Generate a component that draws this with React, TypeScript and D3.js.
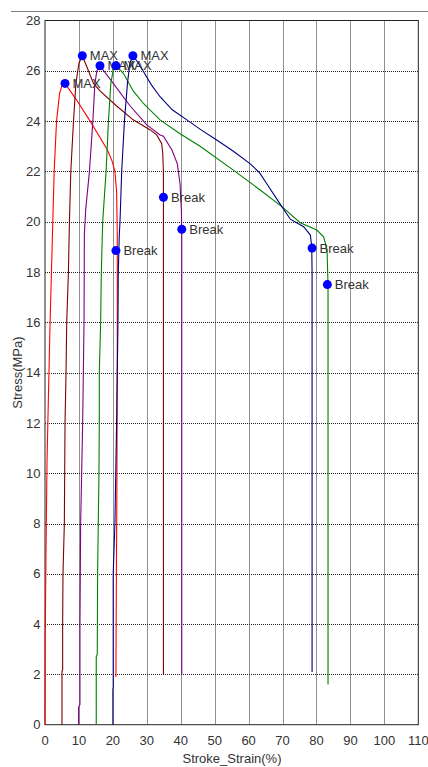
import { useRef, useEffect } from "react";
import * as d3 from "d3";

const WIDTH = 428;
const HEIGHT = 767;
const PLOT = { left: 45, right: 418.3, top: 20.5, bottom: 724.7 };

// strain (%) / stress (MPa) per specimen
const s1Strain = [0, 0.05, 0.1, 0.3, 0.6, 1.0, 1.5, 1.9, 2.3, 2.7, 3.4, 4.3, 5.2, 5.9, 9.5, 13.3, 16.0, 18.4, 19.8, 20.6, 21.1, 21.3, 21.3, 21.2, 21.0, 20.9];
const s1Stress = [0, 3.5, 4.0, 7.0, 10.5, 13.0, 16.0, 18.0, 20.0, 22.0, 24.0, 25.1, 25.5, 25.5, 24.8, 24.0, 23.4, 22.85, 22.4, 22.0, 21.2, 19.5, 15.0, 10.0, 5.0, 1.9];

const s2Strain = [5.0, 5.0, 5.2, 5.2, 5.3, 5.7, 5.8, 5.9, 6.2, 6.4, 6.9, 7.2, 7.6, 8.4, 9.1, 10.0, 11.0, 12.5, 14.3, 16.2, 21.1, 26.0, 31.0, 32.9, 34.4, 34.7, 34.9, 34.9];
const s2Stress = [0, 2.1, 2.2, 4, 6, 8, 10, 12, 14, 16, 18, 20, 22, 24, 25.5, 26.3, 26.6, 26.1, 25.5, 25.2, 24.6, 24.05, 23.65, 23.45, 23.1, 22.7, 22.0, 2.0];

const s3Strain = [9.9, 9.9, 10.3, 10.3, 10.5, 10.8, 11.1, 11.3, 11.5, 11.6, 12.0, 13.1, 14.1, 14.7, 15.3, 16.2, 20.1, 25.1, 30.0, 33.9, 34.9, 37.4, 39.0, 39.8, 40.2, 40.3, 40.3];
const s3Stress = [0, 0.7, 0.8, 4, 8, 10, 12, 14, 16, 19.5, 20.5, 22, 24, 25.5, 26.0, 26.2, 25.5, 24.6, 23.85, 23.45, 23.4, 22.85, 22.3, 21.5, 20.45, 19.5, 2.0];

const s4Strain = [15.1, 15.1, 15.4, 15.5, 15.9, 16.0, 16.0, 16.4, 16.6, 17.0, 18.0, 18.7, 19.4, 20.2, 20.9, 23.1, 26.0, 29.0, 33.9, 39.8, 45.7, 55.5, 63.4, 69.8, 75.2, 80.1, 82.1, 83.1, 83.4, 83.4];
const s4Stress = [0, 2.7, 2.8, 6, 10, 12, 14, 16, 18, 20, 22, 24, 25.5, 26.1, 26.2, 25.9, 25.2, 24.7, 24.05, 23.5, 23.0, 22.05, 21.26, 20.6, 19.96, 19.67, 19.4, 18.9, 17.5, 1.6];

const s5Strain = [20.0, 20.0, 20.1, 20.1, 20.6, 21.1, 21.3, 21.5, 21.6, 21.9, 22.1, 22.6, 23.4, 24.3, 25.0, 25.9, 27.3, 29.0, 31.3, 33.9, 37.5, 41.8, 46.0, 50.6, 55.5, 60.5, 63.2, 65.4, 69.3, 72.3, 76.2, 78.2, 78.6, 78.7, 78.7];
const s5Stress = [0, 1.4, 1.5, 6, 8, 12, 14, 16, 18, 19.5, 20, 22, 24, 25.5, 26.3, 26.6, 26.35, 25.97, 25.45, 24.97, 24.45, 24.05, 23.65, 23.25, 22.8, 22.3, 21.95, 21.5, 20.7, 20.1, 19.8, 19.47, 19.0, 18.0, 2.1];

const seriesColors = ["#ff0000", "#800000", "#800080", "#008000", "#000080"];

const maxStrain = [5.9, 11.0, 16.2, 20.9, 25.9];
const maxStress = [25.5, 26.6, 26.2, 26.2, 26.6];
const breakStrain = [20.9, 34.9, 40.3, 83.2, 78.7];
const breakStress = [18.85, 20.97, 19.7, 17.5, 18.95];

const xTicks = [0, 10, 20, 30, 40, 50, 60, 70, 80, 90, 100, 110];
const yTicks = [0, 2, 4, 6, 8, 10, 12, 14, 16, 18, 20, 22, 24, 26, 28];

const FONT = "'Liberation Sans', Arial, sans-serif";

export default function App() {
  const svgRef = useRef<SVGSVGElement>(null);

  useEffect(() => {
    const svg = d3.select(svgRef.current);
    svg.selectAll("*").remove();

    const x = d3.scaleLinear().domain([0, 110]).range([PLOT.left, PLOT.right]);
    const y = d3.scaleLinear().domain([0, 28]).range([PLOT.bottom, PLOT.top]);

    svg.append("rect").attr("width", WIDTH).attr("height", HEIGHT).attr("fill", "#fff");

    // thin rule above the chart
    svg.append("line")
      .attr("x1", 11).attr("x2", WIDTH).attr("y1", 11.5).attr("y2", 11.5)
      .attr("stroke", "#808080");

    // grid
    const grid = svg.append("g").attr("stroke", "#222").attr("stroke-dasharray", "1,1");
    grid.selectAll("line.v")
      .data(xTicks.slice(1, -1))
      .join("line")
      .attr("x1", (d) => Math.round(x(d)) + 0.5)
      .attr("x2", (d) => Math.round(x(d)) + 0.5)
      .attr("y1", PLOT.top).attr("y2", PLOT.bottom);
    grid.selectAll("line.h")
      .data(yTicks.slice(1, -1))
      .join("line")
      .attr("y1", (d) => Math.round(y(d)) + 0.5)
      .attr("y2", (d) => Math.round(y(d)) + 0.5)
      .attr("x1", PLOT.left).attr("x2", PLOT.right);

    // frame
    svg.append("rect")
      .attr("x", PLOT.left).attr("y", PLOT.top)
      .attr("width", PLOT.right - PLOT.left).attr("height", PLOT.bottom - PLOT.top)
      .attr("fill", "none").attr("stroke", "#222");

    // tick labels
    svg.append("g")
      .selectAll("text")
      .data(xTicks)
      .join("text")
      .attr("x", (d) => x(d)).attr("y", 745)
      .attr("text-anchor", "middle")
      .text((d) => d);
    svg.append("g")
      .selectAll("text")
      .data(yTicks)
      .join("text")
      .attr("x", 40.5).attr("y", (d) => y(d) + 4.6)
      .attr("text-anchor", "end")
      .text((d) => d);

    svg.append("text")
      .attr("x", 232).attr("y", 763)
      .attr("text-anchor", "middle")
      .text("Stroke_Strain(%)");
    svg.append("text")
      .attr("transform", `translate(22,${(PLOT.top + PLOT.bottom) / 2}) rotate(-90)`)
      .attr("text-anchor", "middle")
      .text("Stress(MPa)");

    svg.selectAll("text").attr("font-family", FONT).attr("font-size", 13).attr("fill", "#333");

    // curves
    const strains = [s1Strain, s2Strain, s3Strain, s4Strain, s5Strain];
    const stresses = [s1Stress, s2Stress, s3Stress, s4Stress, s5Stress];
    const line = d3.line<[number, number]>()
      .x((d) => x(d[0]))
      .y((d) => y(d[1]));

    const curves = svg.append("g").attr("fill", "none");
    strains.forEach((s, i) => {
      const pts = s.map((v, j) => [v, stresses[i][j]] as [number, number]);
      curves.append("path")
        .attr("d", line(pts))
        .attr("stroke", seriesColors[i])
        .attr("stroke-width", 1.1);
    });

    // markers
    const marks = svg.append("g");
    const addMarks = (xs: number[], ys: number[], label: string) => {
      xs.forEach((v, i) => {
        marks.append("circle")
          .attr("cx", x(v)).attr("cy", y(ys[i]))
          .attr("r", 4.5).attr("fill", "#0000ff");
        marks.append("text")
          .attr("x", x(v) + 7.5).attr("y", y(ys[i]) + 4.6)
          .attr("font-family", FONT).attr("font-size", 13).attr("fill", "#333")
          .text(label);
      });
    };
    addMarks(maxStrain, maxStress, "MAX");
    addMarks(breakStrain, breakStress, "Break");
  }, []);

  return (
    <svg
      ref={svgRef}
      width={WIDTH}
      height={HEIGHT}
      style={{ position: "absolute", left: 0, top: 0 }}
    />
  );
}
